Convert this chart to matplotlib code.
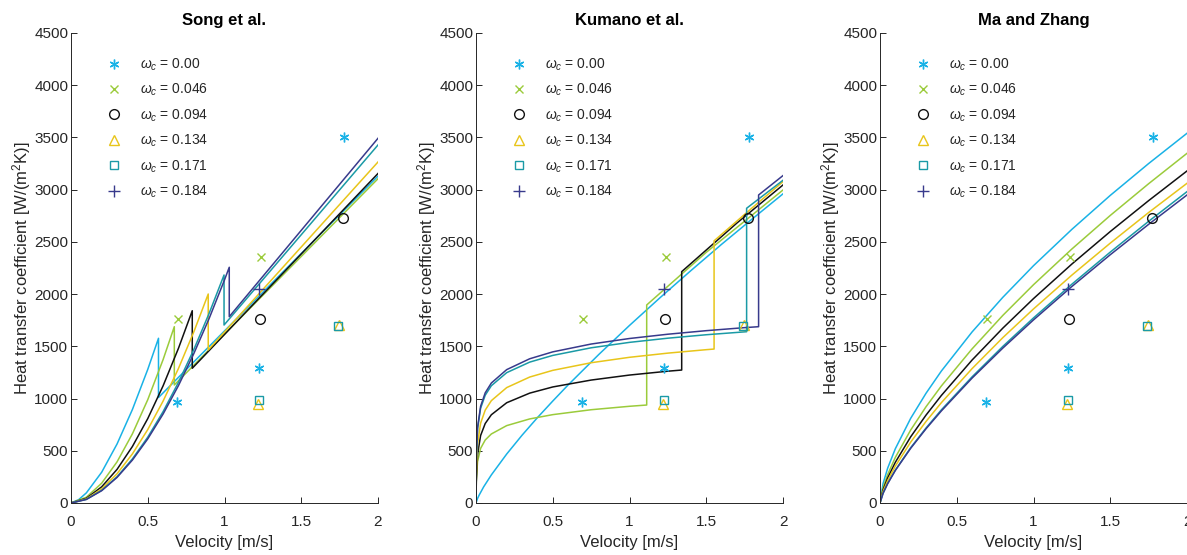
import numpy as np
import matplotlib
matplotlib.use("Agg")
import matplotlib.pyplot as plt
from matplotlib.ticker import FormatStrFormatter

plt.rcParams['font.family'] = ['Liberation Sans', 'DejaVu Sans']
plt.rcParams['mathtext.fontset'] = 'custom'
plt.rcParams['mathtext.rm'] = 'Liberation Sans'
plt.rcParams['mathtext.it'] = 'Liberation Sans:italic'

# series labels / colours / markers
omega = ['0.00', '0.046', '0.094', '0.134', '0.171', '0.184']
colors = ['#19B2E6', '#9BCB3B', '#111111', '#E8C51A', '#1A9AA6', '#383A8C']
markers = [(6, 2, 0), 'x', 'o', '^', 's', '+']
msizes = [7, 6, 7, 7, 6, 8]

# experimental points (same on every panel)
exp_v = [[0.69, 1.225, 1.78], [0.695, 1.235], [1.23, 1.775], [1.215, 1.745], [1.225, 1.74], [1.225]]
exp_h = [[970, 1290, 3500], [1765, 2355], [1762, 2730], [950, 1700], [985, 1692], [2050]]

# Song et al. (laminar branch, drop at transition, turbulent branch)
song_v = [
    [0, 0.05, 0.1, 0.2, 0.3, 0.4, 0.5, 0.57, 0.57, 2.0],
    [0, 0.1, 0.2, 0.3, 0.4, 0.5, 0.6, 0.673, 0.673, 2.0],
    [0, 0.1, 0.2, 0.3, 0.4, 0.5, 0.6, 0.7, 0.79, 0.79, 2.0],
    [0, 0.1, 0.2, 0.3, 0.4, 0.5, 0.6, 0.7, 0.8, 0.894, 0.894, 2.0],
    [0, 0.1, 0.2, 0.3, 0.4, 0.5, 0.6, 0.7, 0.8, 0.9, 0.997, 0.997, 2.0],
    [0, 0.1, 0.2, 0.3, 0.4, 0.5, 0.6, 0.7, 0.8, 0.9, 1.0, 1.031, 1.031, 2.0],
]
song_h = [
    [0, 32, 97, 295, 565, 895, 1279, 1577, 1010, 3130],
    [0, 55, 190, 394, 662, 989, 1373, 1688, 1130, 3105],
    [0, 45, 155, 322, 541, 808, 1122, 1481, 1841, 1290, 3155],
    [0, 39, 135, 280, 470, 703, 976, 1288, 1638, 2001, 1465, 3265],
    [0, 35, 121, 251, 422, 630, 875, 1155, 1469, 1816, 2183, 1704, 3428],
    [0, 34, 118, 245, 411, 614, 852, 1124, 1430, 1767, 2136, 2257, 1784, 3492],
]

# Kumano et al. (jump up at transition)
kum_v = [
    [0, 0.01, 0.02, 0.05, 0.1, 0.2, 0.3, 0.4, 0.5, 0.6, 0.8, 1.0, 1.2, 1.4, 1.6, 1.8, 2.0],
    [0, 0.002, 0.01, 0.03, 0.06, 0.1, 0.2, 0.35, 0.5, 0.75, 1.0, 1.112, 1.112, 1.5, 2.0],
    [0, 0.002, 0.01, 0.03, 0.06, 0.1, 0.2, 0.35, 0.5, 0.75, 1.0, 1.25, 1.34, 1.34, 1.7, 2.0],
    [0, 0.002, 0.01, 0.03, 0.06, 0.1, 0.2, 0.35, 0.5, 0.75, 1.0, 1.25, 1.5, 1.551, 1.551, 1.8, 2.0],
    [0, 0.002, 0.01, 0.03, 0.06, 0.1, 0.2, 0.35, 0.5, 0.75, 1.0, 1.25, 1.5, 1.763, 1.763, 2.0],
    [0, 0.002, 0.01, 0.03, 0.06, 0.1, 0.2, 0.35, 0.5, 0.75, 1.0, 1.25, 1.5, 1.75, 1.841, 1.841, 2.0],
]
kum_h = [
    [0, 43, 74, 155, 269, 469, 649, 817, 976, 1130, 1422, 1700, 1967, 2225, 2477, 2720, 2960],
    [0, 211, 396, 523, 603, 661, 741, 805, 846, 893, 926, 938, 1896, 2400, 2997],
    [0, 200, 465, 646, 761, 845, 960, 1052, 1111, 1177, 1225, 1262, 1273, 2215, 2681, 3045],
    [0, 276, 566, 764, 889, 980, 1105, 1206, 1270, 1343, 1395, 1435, 1468, 1474, 2510, 2827, 3077],
    [0, 419, 709, 907, 1032, 1123, 1248, 1349, 1413, 1486, 1538, 1578, 1611, 1640, 2822, 3090],
    [0, 425, 723, 926, 1055, 1149, 1277, 1381, 1447, 1522, 1575, 1616, 1650, 1679, 1688, 2949, 3135],
]

# Ma and Zhang (smooth)
mz_v = [0, 0.02, 0.05, 0.1, 0.2, 0.3, 0.4, 0.6, 0.8, 1.0, 1.25, 1.5, 1.75, 2.0]
mz_h = [
    [0, 186, 334, 520, 811, 1051, 1264, 1638, 1969, 2272, 2620, 2945, 3250, 3540],
    [0, 146, 273, 437, 699, 922, 1121, 1476, 1796, 2090, 2432, 2753, 3057, 3348],
    [0, 127, 240, 390, 634, 842, 1030, 1369, 1674, 1957, 2288, 2599, 2895, 3179],
    [0, 111, 215, 354, 583, 781, 961, 1287, 1583, 1858, 2182, 2488, 2781, 3061],
    [0, 94, 188, 315, 530, 718, 892, 1208, 1499, 1772, 2095, 2402, 2697, 2981],
    [0, 93, 185, 312, 524, 711, 882, 1196, 1483, 1753, 2073, 2377, 2668, 2949],
]

titles = ['Song et al.', 'Kumano et al.', 'Ma and Zhang']
panels_v = [song_v, kum_v, [mz_v] * 6]
panels_h = [song_h, kum_h, mz_h]

W, H = 1187, 555
fig = plt.figure(figsize=(W / 100, H / 100), dpi=100)
lefts = [71, 476, 880]
txt = '#262626'

for p in range(3):
    ax = fig.add_axes([lefts[p] / W, 52 / H, 307 / W, 470 / H])
    for i in range(6):
        ax.plot(panels_v[p][i], panels_h[p][i], color=colors[i], lw=1.1)
    for i in range(6):
        ax.plot(exp_v[i], exp_h[i], ls='none', marker=markers[i], color=colors[i],
                mfc='none', ms=msizes[i], mew=1.0, label=r'$\omega_c$ = ' + omega[i])
    ax.set_xlim(0, 2)
    ax.set_ylim(0, 4500)
    ax.set_xticks([0, 0.5, 1, 1.5, 2])
    ax.set_yticks(np.arange(0, 4501, 500))
    ax.xaxis.set_major_formatter(FormatStrFormatter('%g'))
    for s in ['top', 'right']:
        ax.spines[s].set_visible(False)
    for s in ['left', 'bottom']:
        ax.spines[s].set_color(txt)
        ax.spines[s].set_linewidth(0.7)
    ax.tick_params(direction='in', length=4, width=0.7, colors=txt, labelsize=11)
    ax.tick_params(axis='x', pad=9)
    ax.tick_params(axis='y', pad=2)
    ax.set_title(titles[p], fontsize=12, fontweight='bold', color='black', pad=6)
    ax.set_xlabel('Velocity [m/s]', fontsize=12, color=txt, labelpad=4)
    ax.set_ylabel(r'Heat transfer coefficient [W/(m$^2$K)]', fontsize=12, color=txt, labelpad=1)
    ax.legend(loc='upper left', bbox_to_anchor=(0.088, 0.962), frameon=False, fontsize=10,
              handlelength=1.5, handletextpad=1.1, labelspacing=0.65, borderaxespad=0,
              labelcolor=txt)

fig.savefig('out.png', dpi=100)
